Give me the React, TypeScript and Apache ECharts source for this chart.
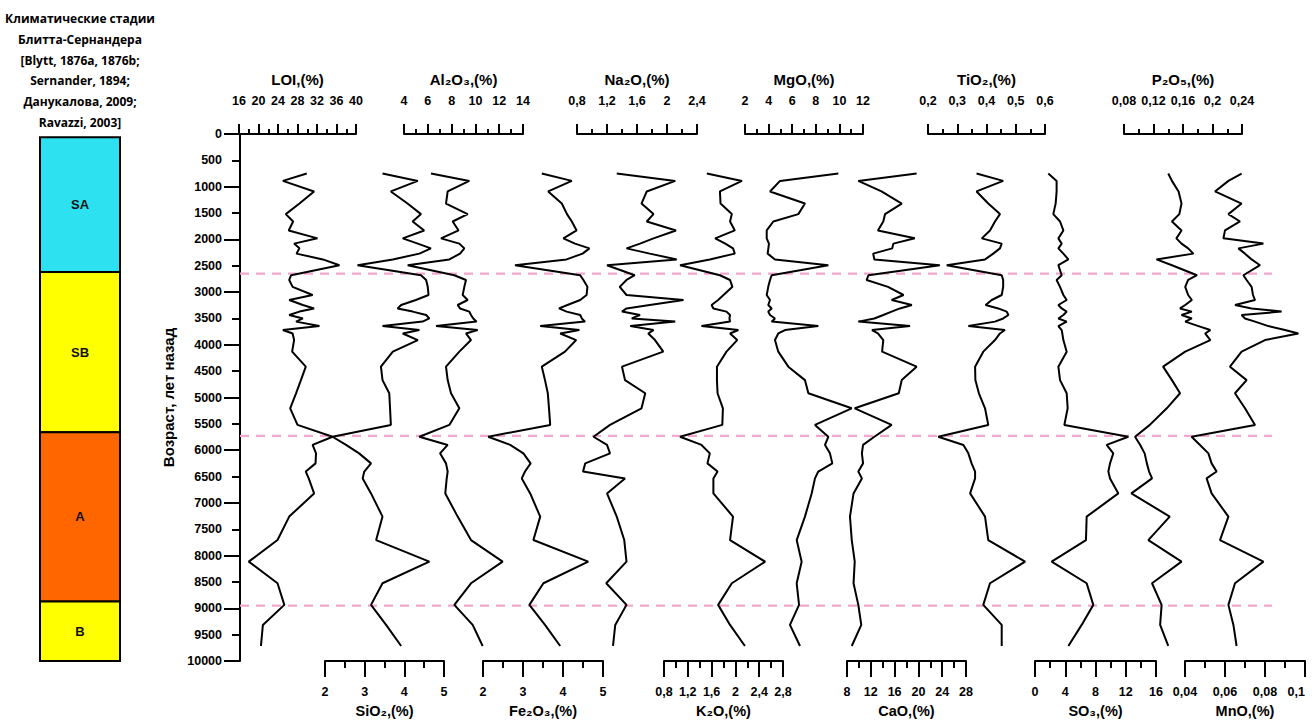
import React, { useEffect, useRef } from 'react';
import * as echarts from 'echarts';

// Sample ages (years BP)
const ages = [750, 890, 1090, 1320, 1520, 1660, 1830, 1980, 2080, 2170, 2270, 2380, 2490, 2680, 2770, 2900, 3055, 3150, 3245, 3310, 3370, 3435, 3500, 3560, 3645, 3720, 3785, 3910, 4130, 4415, 4670, 4920, 5205, 5520, 5745, 5900, 6060, 6250, 6405, 6535, 6820, 7260, 7705, 8115, 8525, 8935, 9315, 9715];

const loi = [29.9, 25.0, 31.4, 28.4, 25.6, 27.1, 26.2, 32.1, 27.3, 28.4, 27.8, 33.2, 36.6, 26.7, 26.3, 27.0, 31.1, 26.3, 29.1, 31.4, 28.4, 26.3, 29.1, 27.7, 32.5, 25.0, 27.0, 27.3, 26.9, 29.7, 28.7, 27.7, 26.5, 28.0, 35.2, 31.1, 31.8, 31.7, 29.7, 30.3, 31.4, 26.3, 23.9, 18.0, 23.9, 25.3, 20.9, 20.5];
const sio2 = [3.45, 4.34, 3.66, 4.08, 4.42, 4.21, 4.50, 3.96, 4.34, 4.67, 4.38, 3.71, 2.82, 4.42, 4.55, 4.59, 4.61, 4.29, 3.92, 3.83, 4.21, 4.55, 4.63, 4.46, 3.45, 4.38, 3.96, 4.34, 3.71, 3.41, 3.45, 3.62, 3.64, 3.66, 2.19, 2.53, 2.86, 3.16, 2.99, 2.95, 3.16, 3.45, 3.29, 4.63, 3.45, 3.16, 3.54, 3.92];
const al2o3 = [6.27, 9.49, 7.67, 7.53, 9.35, 8.09, 8.59, 7.11, 8.65, 9.07, 8.71, 7.81, 4.31, 8.23, 9.21, 9.07, 8.93, 9.35, 8.51, 8.71, 9.49, 9.63, 9.82, 10.1, 6.69, 10.19, 9.21, 9.63, 8.65, 7.53, 7.67, 7.95, 8.65, 7.81, 5.29, 7.67, 7.03, 7.53, 7.67, 7.59, 7.47, 8.51, 9.63, 12.29, 9.63, 8.23, 9.77, 10.61];
const fe2o3 = [3.47, 4.22, 3.63, 3.97, 4.1, 4.22, 4.34, 4.01, 4.3, 4.66, 4.49, 4.09, 2.8, 4.43, 4.51, 4.61, 4.59, 4.43, 4.11, 3.9, 4.09, 4.43, 4.47, 4.55, 3.43, 4.41, 3.93, 4.33, 4.05, 3.47, 3.55, 3.62, 3.65, 3.68, 2.13, 2.68, 3.01, 3.19, 3.05, 2.97, 3.18, 3.43, 3.26, 4.63, 3.51, 3.16, 3.55, 3.93];
const na2o = [1.33, 2.11, 1.73, 1.66, 1.82, 1.73, 2.12, 1.82, 1.64, 1.46, 1.77, 2.13, 1.2, 1.57, 1.46, 1.37, 1.46, 2.22, 1.77, 1.46, 1.40, 1.64, 1.53, 2.11, 1.51, 1.82, 1.75, 1.84, 1.95, 1.40, 1.44, 1.71, 1.66, 1.24, 1.02, 1.2, 1.24, 0.91, 0.88, 1.44, 1.2, 1.33, 1.43, 1.46, 1.19, 1.46, 1.31, 1.28];
const k2o = [1.52, 2.11, 1.74, 1.75, 1.94, 1.91, 1.99, 1.66, 1.83, 1.96, 1.99, 1.57, 1.07, 1.74, 1.91, 1.95, 1.8, 1.71, 1.6, 1.63, 1.85, 1.91, 1.9, 1.91, 1.43, 2.05, 1.91, 2.03, 1.85, 1.69, 1.69, 1.7, 1.79, 1.78, 1.07, 1.43, 1.57, 1.53, 1.7, 1.63, 1.63, 1.96, 1.91, 2.5, 1.94, 1.71, 1.91, 2.16];
const mgo = [9.91, 4.97, 4.12, 7.08, 6.52, 4.4, 3.84, 3.84, 4.03, 3.98, 3.92, 4.54, 9.06, 4.26, 4.12, 3.97, 3.84, 4.12, 3.97, 4.26, 3.97, 4.12, 4.54, 4.26, 8.21, 5.39, 4.82, 4.54, 4.82, 5.67, 7.08, 7.37, 11.04, 7.93, 9.06, 8.78, 9.2, 9.4, 8.21, 7.93, 7.65, 7.08, 6.38, 6.8, 6.38, 6.58, 5.81, 6.66];
const cao = [19.7, 9.9, 13.8, 17.2, 14.4, 14.1, 13.2, 19.4, 15.8, 15.6, 12.4, 12.6, 23.6, 11.6, 11.3, 14.9, 17.5, 15.5, 18.9, 16.9, 15.5, 14.1, 12.6, 9.9, 18.6, 12.2, 13.2, 14.1, 13.9, 19.7, 17.2, 16.7, 9.3, 15.5, 12.6, 10.7, 10.5, 10.7, 9.9, 10.5, 9.1, 8.5, 8.8, 9.3, 9.1, 9.9, 10.4, 8.8];
const tio2 = [0.366, 0.457, 0.366, 0.406, 0.446, 0.429, 0.412, 0.384, 0.452, 0.446, 0.423, 0.395, 0.264, 0.452, 0.457, 0.457, 0.452, 0.418, 0.397, 0.44, 0.469, 0.475, 0.457, 0.429, 0.338, 0.463, 0.446, 0.429, 0.389, 0.361, 0.362, 0.374, 0.395, 0.406, 0.235, 0.321, 0.338, 0.349, 0.361, 0.361, 0.344, 0.395, 0.406, 0.532, 0.412, 0.389, 0.452, 0.452];
const so3 = [1.76, 2.86, 2.86, 2.73, 2.42, 3.31, 3.75, 3.09, 3.53, 3.09, 3.75, 4.41, 3.09, 3.53, 2.86, 3.31, 3.75, 4.19, 3.09, 3.53, 4.19, 3.75, 3.09, 4.19, 3.09, 3.53, 3.61, 3.75, 4.19, 3.09, 3.31, 4.19, 4.32, 3.88, 12.34, 9.48, 10.35, 9.92, 9.7, 9.92, 11.02, 6.83, 6.74, 2.2, 6.83, 7.71, 6.17, 4.41];
const p2o5 = [0.140, 0.145, 0.154, 0.158, 0.155, 0.145, 0.158, 0.151, 0.158, 0.167, 0.174, 0.124, 0.145, 0.179, 0.167, 0.163, 0.167, 0.172, 0.163, 0.156, 0.172, 0.158, 0.172, 0.163, 0.181, 0.197, 0.19, 0.197, 0.163, 0.133, 0.145, 0.156, 0.138, 0.115, 0.095, 0.102, 0.108, 0.111, 0.114, 0.118, 0.09, 0.142, 0.113, 0.158, 0.118, 0.131, 0.129, 0.14];
const mno = [0.0683, 0.0617, 0.055, 0.0683, 0.0617, 0.0675, 0.06, 0.0592, 0.0792, 0.0667, 0.07, 0.0733, 0.0775, 0.0692, 0.0708, 0.0733, 0.074, 0.075, 0.065, 0.0733, 0.0883, 0.0683, 0.07, 0.075, 0.0817, 0.09, 0.0967, 0.08, 0.0683, 0.0625, 0.0708, 0.065, 0.07, 0.075, 0.0433, 0.0475, 0.0517, 0.0533, 0.0558, 0.0508, 0.0533, 0.0617, 0.0575, 0.0792, 0.065, 0.0617, 0.0642, 0.0658];

// Stage boundaries (dashed lines) and Blytt–Sernander stages
const boundaries = [2650, 5730, 8950];
const stageNames = ['SA', 'SB', 'A', 'B'];
const stageFrom = [60, 2620, 5660, 8870];
const stageTo = [2620, 5660, 8870, 10000];
const stageColors = ['#2DE1F1', '#FFFF00', '#FF6600', '#FFFF00'];

const headerLines = ['Климатические стадии', 'Блитта-Сернандера', '[Blytt, 1876a, 1876b;', 'Sernander, 1894;', 'Данукалова, 2009;', 'Ravazzi, 2003]'];
const yAxisTitle = 'Возраст, лет назад';

// Panel definitions: name, data, scale
const panels = [
  { name: 'LOI,(%)', values: loi, min: 16, max: 40, interval: 4, pos: 'top', left: 239, width: 117 },
  { name: 'SiO₂,(%)', values: sio2, min: 2, max: 5, interval: 1, pos: 'bottom', left: 325, width: 119 },
  { name: 'Al₂O₃,(%)', values: al2o3, min: 4, max: 14, interval: 2, pos: 'top', left: 404, width: 119 },
  { name: 'Fe₂O₃,(%)', values: fe2o3, min: 2, max: 5, interval: 1, pos: 'bottom', left: 483, width: 120 },
  { name: 'Na₂O,(%)', values: na2o, min: 0.8, max: 2.4, interval: 0.4, pos: 'top', left: 577, width: 120 },
  { name: 'K₂O,(%)', values: k2o, min: 0.8, max: 2.8, interval: 0.4, pos: 'bottom', left: 664, width: 119 },
  { name: 'MgO,(%)', values: mgo, min: 2, max: 12, interval: 2, pos: 'top', left: 745, width: 118 },
  { name: 'CaO,(%)', values: cao, min: 8, max: 28, interval: 4, pos: 'bottom', left: 847, width: 119 },
  { name: 'TiO₂,(%)', values: tio2, min: 0.2, max: 0.6, interval: 0.1, pos: 'top', left: 928, width: 117 },
  { name: 'SO₃,(%)', values: so3, min: 0, max: 16, interval: 4, pos: 'bottom', left: 1035, width: 121 },
  { name: 'P₂O₅,(%)', values: p2o5, min: 0.08, max: 0.24, interval: 0.04, pos: 'top', left: 1124, width: 118 },
  { name: 'MnO,(%)', values: mno, min: 0.04, max: 0.1, interval: 0.02, pos: 'bottom', left: 1185, width: 120 },
];

const FONT = "'Liberation Sans', Arial, sans-serif";
const TOP = 134;
const H = 527;
const fmt = (v: number) => String(Math.round(v * 1000) / 1000).replace('.', ',');

export default function App() {
  const ref = useRef<HTMLDivElement>(null);
  useEffect(() => {
    if (!ref.current) return;
    const chart = echarts.init(ref.current, undefined, { renderer: 'svg' });

    const gridBase = { top: TOP, height: H, containLabel: false, outerBoundsMode: 'none' };
    const grids: any[] = [
      { ...gridBase, left: 240, width: 1032 },
      { ...gridBase, left: 40, width: 80 },
      ...panels.map((p) => ({ ...gridBase, left: p.left, width: p.width })),
    ];

    const xAxes: any[] = [
      { gridIndex: 0, type: 'value', min: 0, max: 1, show: false },
      { gridIndex: 1, type: 'value', min: 0, max: 1, show: false },
      ...panels.map((p, i) => {
        const isTop = p.pos === 'top';
        const isLast = i === panels.length - 1;
        return {
          gridIndex: i + 2,
          type: 'value',
          position: p.pos,
          min: p.min,
          max: p.max,
          interval: p.interval,
          name: p.name,
          nameLocation: 'middle',
          nameGap: isTop ? 47 : 42,
          nameTextStyle: { fontFamily: FONT, fontWeight: 'bold', fontSize: isTop ? 15 : 14.5, color: '#000' },
          axisLine: { show: true, onZero: false, lineStyle: { color: '#000', width: 2 } },
          axisTick: { show: true, inside: false, length: isTop ? 10 : 16, lineStyle: { color: '#000', width: 2 } },
          minorTick: { show: true, splitNumber: 2, length: isTop ? 5 : 7, lineStyle: { color: '#000', width: 2 } },
          splitLine: { show: false },
          minorSplitLine: { show: false },
          axisLabel: {
            show: true,
            margin: isTop ? 27 : 24,
            formatter: fmt,
            fontFamily: FONT,
            fontWeight: 'bold',
            fontSize: 12.5,
            color: '#000',
            showMinLabel: true,
            showMaxLabel: true,
            ...(isLast ? { alignMaxLabel: 'right' } : {}),
          },
        };
      }),
    ];

    const yAxes: any[] = [
      {
        gridIndex: 0,
        type: 'value',
        inverse: true,
        min: 0,
        max: 10000,
        interval: 500,
        position: 'left',
        name: yAxisTitle,
        nameLocation: 'middle',
        nameGap: 64,
        nameTextStyle: { fontFamily: FONT, fontWeight: 'bold', fontSize: 15, color: '#000' },
        axisLine: { show: true, onZero: false, lineStyle: { color: '#000', width: 2 } },
        axisTick: { show: true, length: 8, lineStyle: { color: '#000', width: 2 } },
        splitLine: { show: false },
        axisLabel: { margin: 18, formatter: (v: number) => String(v), fontFamily: FONT, fontWeight: 'bold', fontSize: 12.5, color: '#000' },
      },
      {
        gridIndex: 0,
        type: 'value',
        inverse: true,
        min: 0,
        max: 10000,
        interval: 1000,
        position: 'left',
        axisLine: { show: false },
        axisTick: { show: true, length: 16, lineStyle: { color: '#000', width: 2 } },
        splitLine: { show: false },
        axisLabel: { show: false },
      },
      { gridIndex: 1, type: 'value', inverse: true, min: 0, max: 10000, show: false },
      ...panels.map((p, i) => ({ gridIndex: i + 2, type: 'value', inverse: true, min: 0, max: 10000, show: false })),
    ];

    const series: any[] = [
      ...boundaries.map((b) => ({
        type: 'line',
        xAxisIndex: 0,
        yAxisIndex: 0,
        data: [[0, b], [1, b]],
        symbol: 'none',
        silent: true,
        lineStyle: { color: '#F2A7CD', width: 2.2, type: [9, 7] },
        z: 1,
      })),
      {
        type: 'custom',
        xAxisIndex: 1,
        yAxisIndex: 2,
        data: stageNames.map((n, i) => ({ value: [stageFrom[i], stageTo[i]], name: n, itemStyle: { color: stageColors[i] } })),
        renderItem: (params: any, api: any) => {
          const a = api.coord([0, api.value(0)]);
          const b = api.coord([1, api.value(1)]);
          const x = a[0];
          const y = a[1];
          const w = b[0] - a[0];
          const h = b[1] - a[1];
          return {
            type: 'group',
            children: [
              { type: 'rect', shape: { x, y, width: w, height: h }, style: { fill: api.visual('color'), stroke: '#000', lineWidth: 2 } },
              {
                type: 'text',
                style: {
                  text: stageNames[params.dataIndex],
                  x: x + w / 2,
                  y: y + h / 2,
                  textAlign: 'center',
                  textVerticalAlign: 'middle',
                  align: 'center',
                  verticalAlign: 'middle',
                  font: 'bold 13px ' + FONT,
                  fill: '#111',
                },
              },
            ],
          };
        },
      },
      ...panels.map((p, i) => ({
        type: 'line',
        name: p.name,
        xAxisIndex: i + 2,
        yAxisIndex: i + 3,
        data: ages.map((a, k) => [p.values[k], a]),
        symbol: 'none',
        clip: false,
        silent: true,
        lineStyle: { color: '#000', width: 2 },
        z: 3,
      })),
    ];

    chart.setOption({
      animation: false,
      backgroundColor: '#fff',
      grid: grids,
      xAxis: xAxes,
      yAxis: yAxes,
      series,
      graphic: [
        {
          type: 'text',
          x: 80,
          y: 8,
          style: {
            text: headerLines.join('\n'),
            textAlign: 'center',
            textVerticalAlign: 'top',
            align: 'center',
            verticalAlign: 'top',
            font: "bold 12px 'Open Sans', sans-serif",
            lineHeight: 20.8,
            fill: '#000',
          },
        },
      ],
    });
    return () => chart.dispose();
  }, []);
  return <div ref={ref} style={{ position: 'absolute', left: 0, top: 0, width: 1312, height: 722 }} />;
}
